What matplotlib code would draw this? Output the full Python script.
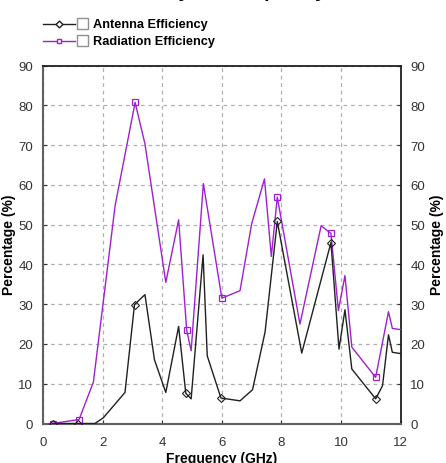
import matplotlib
matplotlib.use("Agg")
import matplotlib.pyplot as plt
from matplotlib.lines import Line2D
from matplotlib.patches import Rectangle

# Data
freq_ant = [0.33, 1.18, 1.74, 2.02, 2.75, 3.07, 3.42, 3.74, 4.12, 4.55, 4.79, 4.97,
            5.37, 5.51, 5.97, 6.61, 7.03, 7.45, 7.86, 8.68, 9.66, 9.93, 10.13, 10.36,
            11.16, 11.39, 11.59, 11.72, 11.98]
ant_eff = [0, 0, 0, 1.4, 7.8, 29.9, 32.4, 16.0, 7.8, 24.4, 7.6, 6.2,
           42.4, 17.0, 6.4, 5.7, 8.5, 23, 50.8, 17.7, 45.5, 18.7, 28.6, 13.7,
           6.2, 9.5, 22.3, 17.9, 17.6]
ant_markers = [0, 1, 5, 10, 14, 18, 20, 24]

freq_rad = [0.33, 1.21, 1.69, 2.42, 3.09, 3.42, 4.12, 4.55, 4.82, 4.97, 5.38, 6.0,
            6.61, 7.0, 7.43, 7.66, 7.86, 8.62, 9.33, 9.66, 9.91, 10.13, 10.36, 11.16,
            11.59, 11.72, 12.0]
rad_eff = [0, 1.0, 10.4, 54.8, 80.7, 70.3, 35.5, 51.2, 23.5, 18.3, 60.3, 31.5,
           33.4, 50.2, 61.5, 42, 56.9, 25, 49.7, 47.8, 28.4, 37.2, 19.2, 11.6,
           28.1, 23.9, 23.6]
rad_markers = [0, 1, 4, 8, 11, 16, 19, 23]

series_names = ["Antenna Efficiency", "Radiation Efficiency"]
x_ticks = [0, 2, 4, 6, 8, 10, 12]
y_ticks = [0, 10, 20, 30, 40, 50, 60, 70, 80, 90]
title = "Efficiency vs. Frequency"
x_label = "Frequency (GHz)"
y_label = "Percentage (%)"

plt.rcParams['font.family'] = ['Liberation Sans', 'DejaVu Sans']

W, H = 446, 464
fig = plt.figure(figsize=(W / 100, H / 100), dpi=100)
ax = fig.add_axes([43 / W, (H - 424.5) / H, (400.7 - 43) / W, (424.5 - 66.5) / H])

black = '#202020'
purple = '#a020d0'

ax.plot(freq_rad, rad_eff, color=purple, lw=1.0, marker='s', markersize=4.5,
        markerfacecolor='none', markeredgecolor=purple, markeredgewidth=0.9,
        markevery=rad_markers, zorder=3)
ax.plot(freq_ant, ant_eff, color=black, lw=1.0, marker='D', markersize=4,
        markerfacecolor='none', markeredgecolor=black, markeredgewidth=0.8,
        markevery=ant_markers, zorder=4)

ax.set_xlim(0, 12)
ax.set_ylim(0, 90)
ax.set_xticks(x_ticks)
ax.set_yticks(y_ticks)
ax.grid(True, linestyle=(0, (3, 3)), color='#b0b0b0', linewidth=0.9)
ax.set_axisbelow(True)

ax.tick_params(axis='both', which='both', labelsize=9.5, colors='#333333', length=3,
               direction='in')
ax.tick_params(axis='y', right=True, labelright=True, pad=7)
ax.tick_params(axis='x', pad=9)
for s in ['left', 'bottom']:
    ax.spines[s].set_color('#606060')
    ax.spines[s].set_linewidth(1.5)
for s in ['right', 'top']:
    ax.spines[s].set_color('#202020')
    ax.spines[s].set_linewidth(1.3)

fig.text((43 + 400.7) / 2 / W, 1 - 459 / H, x_label, fontsize=10,
         fontweight='bold', ha='center', va='center')
fig.text(9 / W, (H - 245) / H, y_label, rotation=90, fontsize=10,
         fontweight='bold', ha='center', va='center')
fig.text(437 / W, (H - 245) / H, y_label, rotation=90, fontsize=10,
         fontweight='bold', ha='center', va='center')

# Title (mostly cut off at the top, as in the reference)
fig.text(326 / W, 1 + 3.5 / H, title, fontsize=14, fontweight='bold',
         ha='right', va='baseline')

# Legend (custom, above the axes)
legend_rows = [(25, black, 'D', series_names[0]), (42, purple, 's', series_names[1])]
for ypx, col, mk, name in legend_rows:
    yf = 1 - ypx / H
    fig.add_artist(Line2D([43 / W, 75 / W], [yf, yf], color=col, lw=1.0,
                          transform=fig.transFigure))
    fig.add_artist(Line2D([59 / W], [yf], color=col, marker=mk, markersize=3.5,
                          markerfacecolor='white', markeredgecolor=col,
                          transform=fig.transFigure))
    fig.add_artist(Rectangle((77 / W, yf - 5 / H), 11 / W, 11 / H,
                             transform=fig.transFigure, facecolor='white',
                             edgecolor='#909090', lw=1.0))
    fig.text(93 / W, yf, name, fontsize=9.2, fontweight='bold', ha='left',
             va='center')

fig.savefig('out.png', dpi=100)
